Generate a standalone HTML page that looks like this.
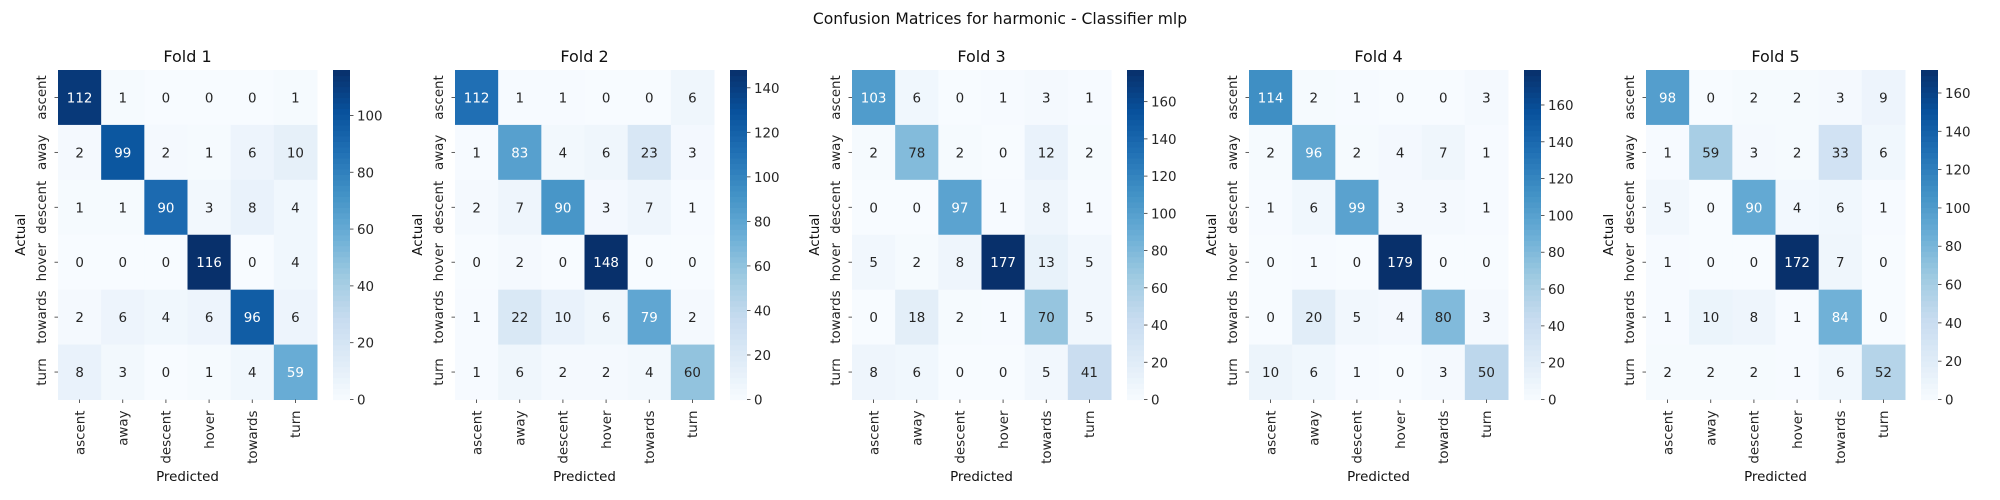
<!DOCTYPE html>
<html><head><meta charset="utf-8">
<style>
html,body{margin:0;padding:0;background:#fff;}
svg{display:block;font-family:"DejaVu Sans","Liberation Sans",sans-serif;}
</style></head>
<body>
<svg id="chart" width="2000" height="500" viewBox="0 0 2000 500" xmlns="http://www.w3.org/2000/svg">
<text x="1000" y="24" text-anchor="middle" font-size="15.6" fill="#111">Confusion Matrices for harmonic - Classifier mlp</text>
</svg>
<script>
const classes = ["ascent","away","descent","hover","towards","turn"];
const fold1 = [[112,1,0,0,0,1],[2,99,2,1,6,10],[1,1,90,3,8,4],[0,0,0,116,0,4],[2,6,4,6,96,6],[8,3,0,1,4,59]];
const fold2 = [[112,1,1,0,0,6],[1,83,4,6,23,3],[2,7,90,3,7,1],[0,2,0,148,0,0],[1,22,10,6,79,2],[1,6,2,2,4,60]];
const fold3 = [[103,6,0,1,3,1],[2,78,2,0,12,2],[0,0,97,1,8,1],[5,2,8,177,13,5],[0,18,2,1,70,5],[8,6,0,0,5,41]];
const fold4 = [[114,2,1,0,0,3],[2,96,2,4,7,1],[1,6,99,3,3,1],[0,1,0,179,0,0],[0,20,5,4,80,3],[10,6,1,0,3,50]];
const fold5 = [[98,0,2,2,3,9],[1,59,3,2,33,6],[5,0,90,4,6,1],[1,0,0,172,7,0],[1,10,8,1,84,0],[2,2,2,1,6,52]];
const folds = [fold1,fold2,fold3,fold4,fold5];
const cbTickStep = 20;

const NS="http://www.w3.org/2000/svg";
const svg=document.getElementById('chart');
const FS=13.4;
const stops=["#f7fbff","#deebf7","#c6dbef","#9ecae1","#6baed6","#4292c6","#2171b5","#08519c","#08306b"].map(h=>[parseInt(h.slice(1,3),16),parseInt(h.slice(3,5),16),parseInt(h.slice(5,7),16)]);
function cmap(t){t=Math.max(0,Math.min(1,t));const p=t*8;const i=Math.min(7,Math.floor(p));const f=p-i;
 return stops[i].map((c,k)=>Math.round(c+(stops[i+1][k]-c)*f));}
function lum(c){const l=c.map(v=>{v/=255;return v<=0.03928?v/12.92:Math.pow((v+0.055)/1.055,2.4)});return 0.2126*l[0]+0.7152*l[1]+0.0722*l[2];}
function el(tag,attrs,parent){const e=document.createElementNS(NS,tag);for(const k in attrs)e.setAttribute(k,attrs[k]);(parent||svg).appendChild(e);return e;}

const top0=70,bot0=399.5,W=259,H=bot0-top0,cw=W/6,ch=H/6;
folds.forEach((m,fi)=>{
 const x0=58+397*fi;
 const vmax=Math.max(...m.flat());
 const g=el('g',{});
 
 
 const t=el('text',{x:x0+W/2,y:62,'text-anchor':'middle','font-size':16,fill:'#111'},g);
 t.textContent='Fold '+(fi+1);
 
 
 m.forEach((row,r)=>row.forEach((v,c)=>{
  const col=cmap(v/vmax);
  const rc=el('rect',{x:x0+c*cw,y:top0+r*ch,width:cw+0.5,height:ch+0.5,fill:`rgb(${col})`},g);
  
  
  const tx=el('text',{x:x0+(c+0.5)*cw,y:top0+(r+0.5)*ch+5,'text-anchor':'middle','font-size':FS,fill:lum(col)>0.408?'#262626':'#ffffff'},g);
  tx.textContent=v;
  
  
 }));
 classes.forEach((cl,i)=>{
  const yc=top0+(i+0.5)*ch;
  el('line',{x1:x0-3.5,x2:x0,y1:yc,y2:yc,stroke:'#333','stroke-width':0.8},g);
  const yl=el('text',{transform:`translate(${x0-12},${yc}) rotate(-90)`,'text-anchor':'middle','font-size':FS,fill:'#262626'},g);
  yl.textContent=cl;
  
  
  const xc=x0+(i+0.5)*cw;
  el('line',{x1:xc,x2:xc,y1:bot0,y2:bot0+3.5,stroke:'#333','stroke-width':0.8},g);
  const xl=el('text',{transform:`translate(${xc+4.8},${bot0+11}) rotate(-90)`,'text-anchor':'end','font-size':FS,fill:'#262626'},g);
  xl.textContent=cl;
  
  
 });
 const xa=el('text',{x:x0+W/2,y:481,'text-anchor':'middle','font-size':FS,fill:'#111'},g);
 xa.textContent='Predicted';
 
 
 const ya=el('text',{transform:`translate(${x0-33},${(top0+bot0)/2}) rotate(-90)`,'text-anchor':'middle','font-size':FS,fill:'#111'},g);
 ya.textContent='Actual';
 
 
 const cx=x0+275,cwid=17,N=60;
 const cb=el('g',{},g);
 
 
 for(let k=0;k<N;k++){const col=cmap((k+0.5)/N);
  el('rect',{x:cx,y:bot0-(k+1)*H/N,width:cwid,height:H/N+0.6,fill:`rgb(${col})`},cb);}
 for(let v=0;v<=vmax;v+=cbTickStep){const y=bot0-v/vmax*H;
  el('line',{x1:cx+cwid,x2:cx+cwid+3.5,y1:y,y2:y,stroke:'#333','stroke-width':0.8},cb);
  const lt=el('text',{x:cx+cwid+7,y:y+5,'font-size':FS,fill:'#262626'},cb);
  lt.textContent=v;
  
  
 }
});
</script>
</body></html>
